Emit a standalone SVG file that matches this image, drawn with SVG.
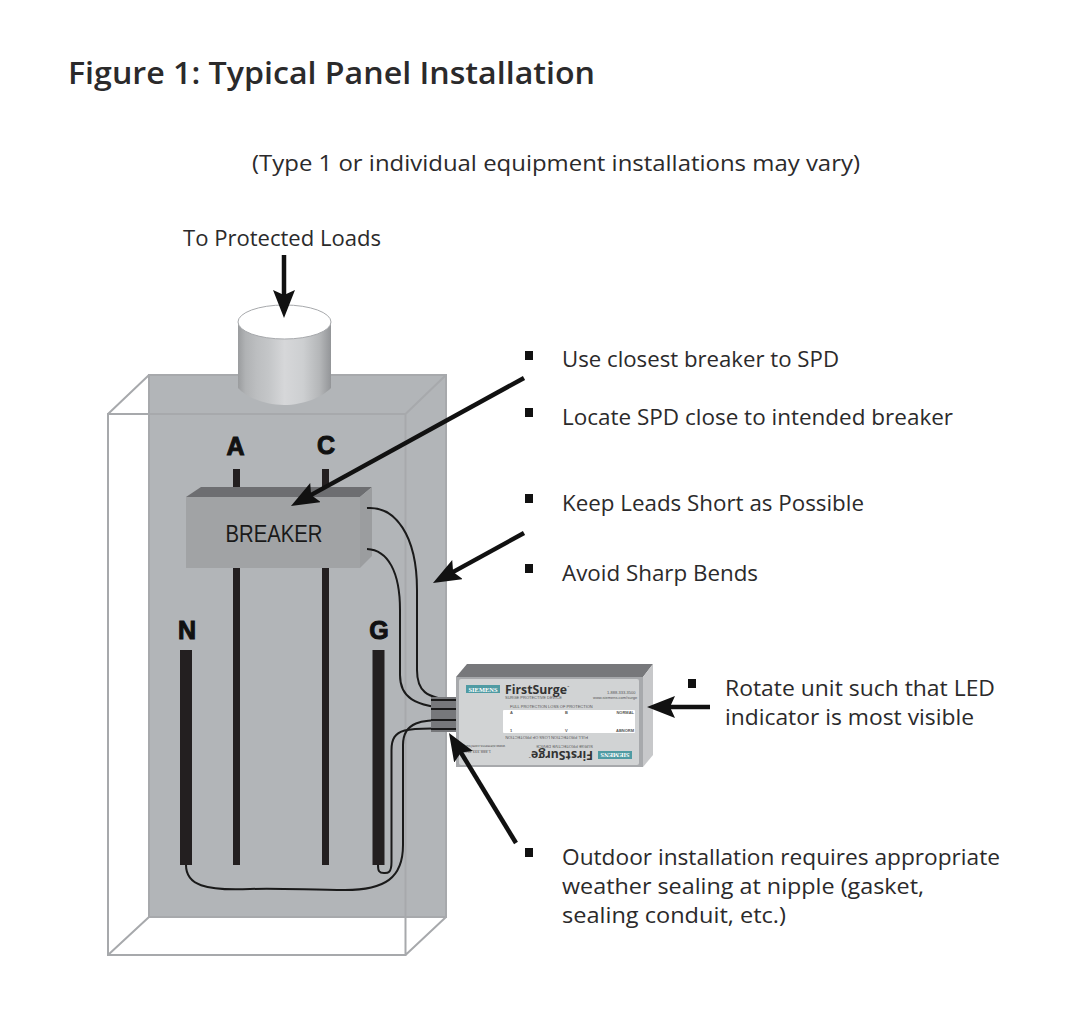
<svg xmlns="http://www.w3.org/2000/svg" width="1085" height="1023" viewBox="0 0 1085 1023">
<style>
text{font-family:"Open Sans","Noto Sans","Liberation Sans",sans-serif;fill:#2b2a2b}
.t{font-size:22.5px}
.box{fill:none;stroke:#a7a9ac;stroke-width:2}
.bar{fill:#231f20}
.w{fill:none;stroke:#1a1a1a;stroke-width:2}
.a{fill:none;stroke:#111;stroke-width:4.5;marker-end:url(#ah)}
.b{fill:#111}
.L{font-family:"Liberation Sans",sans-serif;font-weight:bold;font-size:25px;fill:#111;text-anchor:middle;stroke:#111;stroke-width:1}
.tiny{font-family:"Liberation Sans",sans-serif;font-size:4px;fill:#555}
</style>
<defs>
<marker id="ah" markerUnits="userSpaceOnUse" markerWidth="32" markerHeight="24" refX="8" refY="11" orient="auto"><path d="M0 0L28 11L0 22L5 11Z" fill="#111"/></marker>
<linearGradient id="cyl"><stop offset="0" stop-color="#9a9c9e"/><stop offset=".08" stop-color="#b0b2b4"/><stop offset=".2" stop-color="#bcbec0"/><stop offset=".33" stop-color="#c4c6c8"/><stop offset=".5" stop-color="#d6d7d9"/><stop offset=".7" stop-color="#cdcfd1"/><stop offset=".88" stop-color="#b4b6b8"/><stop offset="1" stop-color="#939598"/></linearGradient>
<g id="half"><rect x="466" y="685" width="34" height="8" fill="#4f9ba3"/><text x="483" y="691.500" font-size="6.500" text-anchor="middle" textLength="29" lengthAdjust="spacingAndGlyphs" style="fill:#fff;font-family:'Liberation Serif',serif;font-weight:bold">SIEMENS</text><text x="505" y="693.500" font-size="13px" font-weight="700" textLength="62" lengthAdjust="spacingAndGlyphs" style="fill:#333">FirstSurge</text><text x="567" y="688" font-size="3px" style="fill:#333">™</text><text x="505" y="699" class="tiny">SURGE PROTECTIVE DEVICE</text><text x="607" y="694" class="tiny">1-888-333-3500</text><text x="593" y="699" class="tiny">www.siemens.com/surge</text><text x="510" y="708" class="tiny">FULL PROTECTION   LOSS OF PROTECTION</text></g>
</defs>
<text x="68" y="84" font-size="30px" font-weight="600" textLength="527" lengthAdjust="spacingAndGlyphs">Figure 1: Typical Panel Installation</text>
<text class="t" x="252" y="171" textLength="608" lengthAdjust="spacingAndGlyphs">(Type 1 or individual equipment installations may vary)</text>
<g id="enclosure">
<rect x="149" y="375" width="297" height="542" fill="#b2b5b8"/>
<rect x="149" y="375" width="297" height="542" class="box"/>
<path class="box" d="M108 414H405.500V955H108ZM108 414L149 375M405.500 414L446 375M108 955L149 917M405.500 955L446 917"/>
</g>
<g id="conduit">
<path d="M238 322V388C246 397 264 405 284 405S322 397 331 388V322Z" fill="url(#cyl)"/>
<ellipse cx="284.500" cy="322" rx="46.500" ry="17" fill="#fff" stroke="#a7a9ac" stroke-width="1"/>
</g>
<g id="bus-bars">
<rect class="bar" x="233" y="469" width="7" height="396"/>
<rect class="bar" x="322" y="469" width="7" height="396"/>
<rect class="bar" x="180" y="650" width="12" height="215"/>
<rect class="bar" x="372.500" y="650" width="12" height="215"/>
</g>
<g id="bus-labels">
<text class="L" x="235.500" y="455">A</text>
<text class="L" x="326" y="454">C</text>
<text class="L" x="187" y="639">N</text>
<text class="L" x="379" y="639">G</text>
</g>
<g id="breaker">
<path d="M186 497L201 487H372L360 497Z" fill="#6d6e71"/>
<path d="M360 497L372 487V556L360 568Z" fill="#9b9d9f"/>
<rect x="186" y="497" width="174" height="71" fill="#a1a3a5"/>
<text x="274" y="542" font-size="24px" text-anchor="middle" textLength="97" lengthAdjust="spacingAndGlyphs" style="font-family:'Liberation Sans',sans-serif;fill:#1a1a1a">BREAKER</text>
</g>
<g id="connectors">
<path class="w" d="M367 508C395 506 417 535 417 590V670C417 690 425 699 456 700"/>
<path class="w" d="M367 549C388 550 400 572 400 610V675C400 696 412 707 456 709"/>
<path class="w" d="M456 720C420 719 403 722 403 745V845C403 878 385 890 345 890C310 890 280 888 250 889C205 891 186 885 186 865"/>
<path class="w" d="M456 729C405 727 391.500 728 391.500 750V862C391.500 874 387 873 384 873C379 873 378 871 378 865"/>
</g>
<g id="spd">
<path d="M456 677L467 664H653L643 677Z" fill="#77787b"/>
<path d="M643 677L653 664V755L643 767Z" fill="#c7c8ca"/>
<rect x="456" y="677" width="187" height="90" fill="#a7a9ac"/>
<rect x="459" y="679" width="180" height="86" rx="2" fill="#d1d3d4"/>
<rect x="503" y="710" width="132" height="23" rx="1" fill="#fff"/>
<use href="#half"/>
<use href="#half" transform="rotate(180 549 722)"/>
<text x="510" y="714" class="tiny" font-weight="bold">A</text><text x="565" y="714" class="tiny" font-weight="bold">B</text><text x="634" y="714" class="tiny" text-anchor="end" font-weight="bold">NORMAL</text>
<text x="510" y="732" class="tiny" font-weight="bold">1</text><text x="565" y="732" class="tiny" font-weight="bold">V</text><text x="634" y="732" class="tiny" text-anchor="end" font-weight="bold">ABNORM</text>
<rect x="431" y="697" width="25" height="35" fill="#77787b"/>
<path d="M431 700H456M431 709H456M431 720H456M431 729H456" stroke="#1a1a1a" stroke-width="2"/>
</g>
<g id="callouts">
<text class="t" x="183" y="246" textLength="198" lengthAdjust="spacingAndGlyphs">To Protected Loads</text>
<rect class="b" x="525" y="351" width="8" height="9"/>
<text class="t" x="562" y="367" textLength="277" lengthAdjust="spacingAndGlyphs">Use closest breaker to SPD</text>
<rect class="b" x="525" y="408" width="8" height="9"/>
<text class="t" x="562" y="425" textLength="391" lengthAdjust="spacingAndGlyphs">Locate SPD close to intended breaker</text>
<rect class="b" x="525" y="494" width="8" height="9"/>
<text class="t" x="562" y="511" textLength="302" lengthAdjust="spacingAndGlyphs">Keep Leads Short as Possible</text>
<rect class="b" x="525" y="564" width="8" height="9"/>
<text class="t" x="562" y="581" textLength="196" lengthAdjust="spacingAndGlyphs">Avoid Sharp Bends</text>
<rect class="b" x="688" y="679" width="8" height="9"/>
<text class="t" x="725" y="696" textLength="270" lengthAdjust="spacingAndGlyphs">Rotate unit such that LED</text>
<text class="t" x="725" y="725" textLength="249" lengthAdjust="spacingAndGlyphs">indicator is most visible</text>
<rect class="b" x="525" y="848" width="8" height="9"/>
<text class="t" x="562" y="865" textLength="438" lengthAdjust="spacingAndGlyphs">Outdoor installation requires appropriate</text>
<text class="t" x="562" y="894" textLength="362" lengthAdjust="spacingAndGlyphs">weather sealing at nipple (gasket,</text>
<text class="t" x="562" y="923" textLength="224" lengthAdjust="spacingAndGlyphs">sealing conduit, etc.)</text>
</g>
<g id="arrows">
<path class="a" d="M284 255V298"/>
<path class="a" d="M524 378L308.500 496.400"/>
<path class="a" d="M524 533L450.500 573.400"/>
<path class="a" d="M710 707H667"/>
<path class="a" d="M516 843L459.400 750"/>
</g>
</svg>
